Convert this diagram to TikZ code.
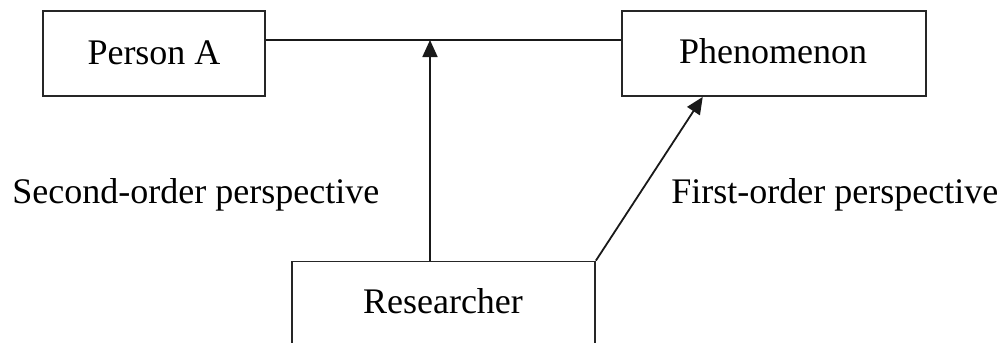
\documentclass[tikz,border=0pt]{standalone}
\usepackage{fontspec}
\setmainfont{Liberation Serif}
\usetikzlibrary{arrows.meta,calc}
\begin{document}
\begin{tikzpicture}[x=0.5pt,y=-0.5pt,
  box/.style={draw=black!85,line width=0.9pt,rectangle,inner sep=0pt,font=\fontsize{18}{20}\selectfont},
  lbl/.style={inner sep=0pt,anchor=base west,font=\fontsize{18}{20}\selectfont},
  conn/.style={draw=black!90,line width=0.9pt},
  arr/.style={conn,-{Triangle[length=8.5pt,width=7.5pt]}}]
\useasboundingbox (0,0) rectangle (1003,343);
\clip (0,0) rectangle (1003,343);
\node[box,minimum width=111pt,minimum height=42.5pt] (pa) at (154,53.5) {};
\node[inner sep=0pt,anchor=base,font=\fontsize{18}{20}\selectfont] (pat) at (154,64) {Person A};
\node[box,minimum width=152pt,minimum height=42.5pt] (ph) at (774,53.5) {};
\node[inner sep=0pt,anchor=base,font=\fontsize{18}{20}\selectfont] (pht) at (773,63) {Phenomenon};
\node[box,minimum width=151.5pt,minimum height=42.5pt] (res) at (443.5,304) {};
\node[inner sep=0pt,anchor=base,font=\fontsize{18}{20}\selectfont] (rest) at (443,313) {Researcher};
\coordinate (j) at (430,40);
\draw[conn] (pa.east |- j) -- (ph.west |- j);
\draw[arr] (res.north -| j) -- (j);
\draw[arr] (res.north east) -- ($(ph.south west)!0.267!(ph.south east)$);
\node[lbl] (so) at (12,203) {Second-order perspective};
\node[lbl] (fo) at (671,203) {First-order perspective};
\end{tikzpicture}
\end{document}
